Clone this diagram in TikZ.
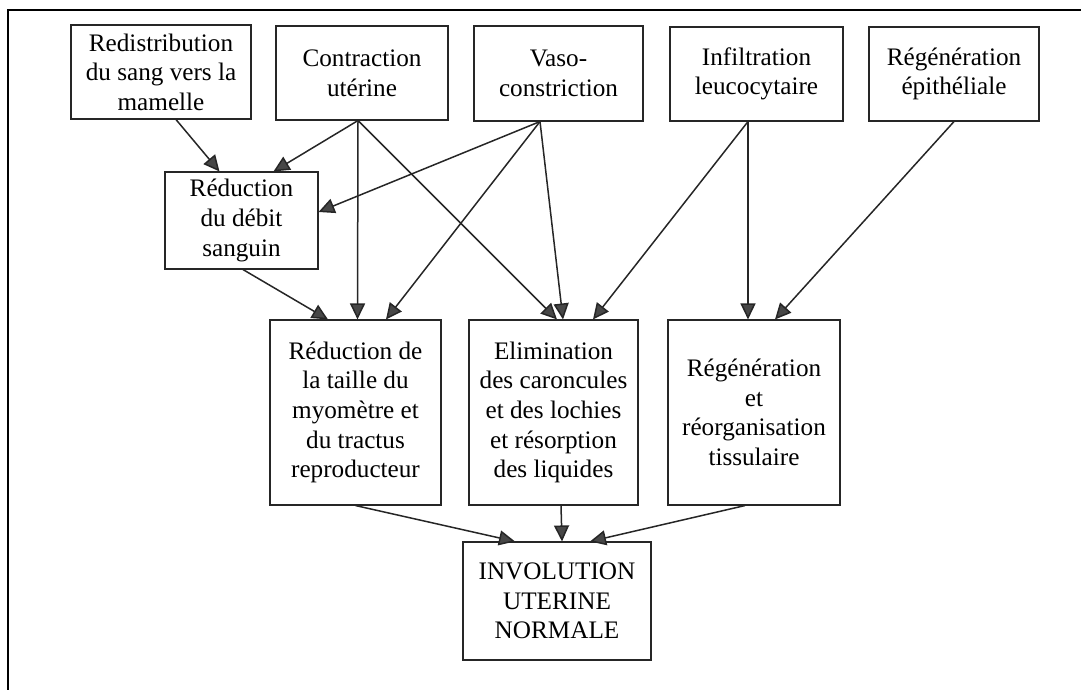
\documentclass[tikz,border=0pt]{standalone}
\usepackage{fontspec}
\setmainfont{Liberation Serif}
\newfontfamily\boxfont{Liberation Serif}
\usepackage{tikz}
\usetikzlibrary{positioning, arrows.meta}

\tikzset{
	box/.style={draw=black!85, line width=0.55pt, align=center, inner sep=0pt,
		font=\boxfont\fontsize{12.6}{14.8}\selectfont},
	flow/.style={draw=black!85, line width=0.75pt,
		-{Triangle[length=8pt, width=7.5pt, fill=black!72]}}
}

\begin{document}
\begin{tikzpicture}[x=0.5pt, y=-0.5pt]
	\useasboundingbox (0,0) rectangle (1081,690);
	\draw[line width=1pt] (8,10) rectangle (1100,710);

	\node[box, minimum width=90pt, minimum height=47pt] (redist) at (161,72) {Redistribution\\du sang vers la\\mamelle};
	\node[box, minimum width=86pt, minimum height=47pt] (contr) at (362,73) {Contraction\\utérine};
	\node[box, minimum width=84.5pt, minimum height=47.5pt] (vaso) at (558.5,73.5) {Vaso-\\constriction};
	\node[box, minimum width=86.5pt, minimum height=47pt] (infil) at (756.5,74) {Infiltration\\leucocytaire};
	\node[box, minimum width=85pt, minimum height=47pt] (regepi) at (954,74) {Régénération\\épithéliale};

	\node[box, minimum width=76.5pt, minimum height=48.5pt] (debit) at (241.5,220.5) {Réduction\\du débit\\sanguin};

	\node[box, minimum width=85.5pt, minimum height=92.5pt] (taille) at (355.5,412.5) {Réduction de\\la taille du\\myomètre et\\du tractus\\reproducteur};
	\node[box, minimum width=84.5pt, minimum height=92.5pt] (elim) at (553.5,412.5) {Elimination\\des caroncules\\et des lochies\\et résorption\\des liquides};
	\node[box, minimum width=86pt, minimum height=92.5pt] (reorg) at (754,412.5) {Régénération\\et\\réorganisation\\tissulaire};

	\node[box, minimum width=94pt, minimum height=59pt] (invol) at (557,601) {INVOLUTION\\UTERINE\\NORMALE};

	% vers le debit sanguin
	\draw[flow] ([xshift=7.5pt]redist.south) -- ([xshift=-11pt]debit.north);
	\draw[flow] ([xshift=-2pt]contr.south) -- ([xshift=16pt]debit.north);
	\draw[flow] ([xshift=-9.25pt]vaso.south) -- ([yshift=4.25pt]debit.east);

	% deuxieme niveau
	\draw[flow] ([xshift=0.75pt]debit.south) -- ([xshift=-13.75pt]taille.north);
	\draw[flow] ([xshift=-2pt]contr.south) -- ([xshift=1pt]taille.north);
	\draw[flow] ([xshift=-9.25pt]vaso.south) -- ([xshift=15.25pt]taille.north);
	\draw[flow] ([xshift=-2pt]contr.south) -- ([xshift=1.75pt]elim.north);
	\draw[flow] ([xshift=-9.25pt]vaso.south) -- ([xshift=4.75pt]elim.north);
	\draw[flow] ([xshift=-4.25pt]infil.south) -- ([xshift=19.75pt]elim.north);
	\draw[flow] ([xshift=-4.25pt]infil.south) -- ([xshift=-3pt]reorg.north);
	\draw[flow] (regepi.south) -- ([xshift=10.5pt]reorg.north);

	% involution
	\draw[flow] (taille.south) -- ([xshift=-21pt]invol.north);
	\draw[flow] ([xshift=3.75pt]elim.south) -- ([xshift=2.5pt]invol.north);
	\draw[flow] ([xshift=-4.5pt]reorg.south) -- ([xshift=16.5pt]invol.north);

\end{tikzpicture}
\end{document}
